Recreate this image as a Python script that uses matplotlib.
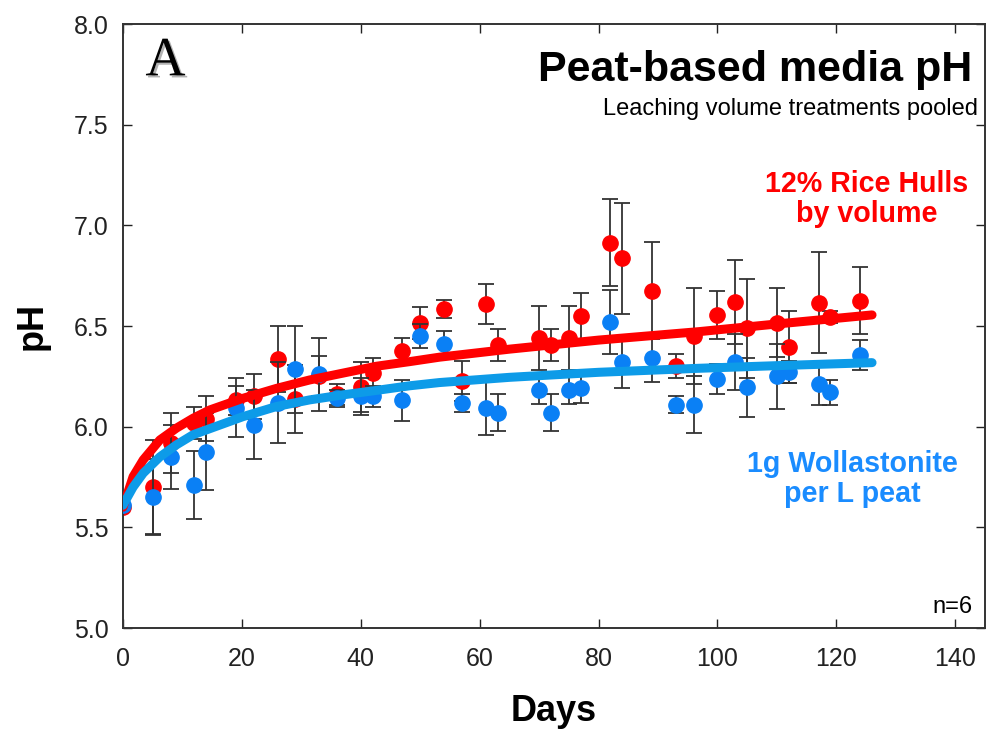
import matplotlib
matplotlib.use("Agg")
import matplotlib.pyplot as plt
import matplotlib.patheffects as pe

plt.rcParams['font.family'] = ['Liberation Sans', 'DejaVu Sans']

days = [0, 5, 8, 12, 14, 19, 22, 26, 29, 33, 36, 40, 42, 47, 50, 54, 57, 61, 63,
        70, 72, 75, 77, 82, 84, 89, 93, 96, 100, 103, 105, 110, 112, 117, 119, 124]

rice_ph = [5.60, 5.70, 5.92, 6.02, 6.04, 6.13, 6.15, 6.335, 6.137, 6.25, 6.16, 6.196,
           6.265, 6.375, 6.515, 6.584, 6.227, 6.61, 6.406, 6.44, 6.406, 6.44, 6.55,
           6.914, 6.837, 6.676, 6.30, 6.45, 6.555, 6.62, 6.489, 6.517, 6.395, 6.616,
           6.544, 6.626]
rice_err = [0.0, 0.235, 0.15, 0.08, 0.11, 0.07, 0.11, 0.165, 0.17, 0.10, 0.05, 0.125,
            0.075, 0.065, 0.08, 0.045, 0.10, 0.10, 0.08, 0.16, 0.08, 0.16, 0.113,
            0.216, 0.275, 0.24, 0.06, 0.24, 0.12, 0.21, 0.245, 0.17, 0.18, 0.25,
            0.03, 0.165]

woll_ph = [5.61, 5.65, 5.85, 5.71, 5.876, 6.095, 6.01, 6.12, 6.285, 6.26, 6.14, 6.15,
           6.15, 6.13, 6.45, 6.41, 6.117, 6.095, 6.07, 6.183, 6.07, 6.183, 6.19,
           6.52, 6.32, 6.34, 6.11, 6.11, 6.236, 6.32, 6.196, 6.25, 6.27, 6.21,
           6.17, 6.356]
woll_err = [0.0, 0.19, 0.16, 0.17, 0.19, 0.145, 0.17, 0.20, 0.215, 0.18, 0.04, 0.09,
            0.05, 0.10, 0.06, 0.066, 0.043, 0.135, 0.09, 0.07, 0.09, 0.07, 0.07,
            0.16, 0.13, 0.12, 0.04, 0.14, 0.076, 0.14, 0.146, 0.16, 0.055, 0.10,
            0.06, 0.075]

# fitted curves
fit_days = [0, 1.7, 3.4, 6.2, 9.0, 11.8, 14.6, 20.2, 25.8, 31.4, 37, 42.6, 48.2,
            53.2, 65, 80, 96.9, 110, 126]
rice_fit = [5.60, 5.752, 5.835, 5.934, 5.993, 6.042, 6.083, 6.141, 6.19, 6.232,
            6.266, 6.30, 6.323, 6.345, 6.385, 6.43, 6.472, 6.51, 6.555]
woll_fit = [5.61, 5.70, 5.769, 5.85, 5.91, 5.96, 5.99, 6.05, 6.10, 6.133, 6.158,
            6.18, 6.203, 6.219, 6.245, 6.27, 6.29, 6.303, 6.318]

red = '#ff0000'
blue_pt = '#0a80f5'
blue_line = '#0d9be8'

fig = plt.figure(figsize=(9.86, 7.36), dpi=100)
ax = fig.add_axes([123 / 986, 1 - 628 / 736, (985 - 123) / 986, (628 - 24) / 736])

ax.errorbar(days, rice_ph, yerr=rice_err, fmt='o', color=red, ms=11, mec=red,
            ecolor='#333333', elinewidth=1.3, capsize=6, capthick=1.3, zorder=2)
ax.errorbar(days, woll_ph, yerr=woll_err, fmt='o', color=blue_pt, ms=11, mec=blue_pt,
            ecolor='#333333', elinewidth=1.3, capsize=6, capthick=1.3, zorder=3)

ax.plot(fit_days, rice_fit, color=red, lw=6.5, solid_capstyle='round', zorder=4)
ax.plot(fit_days, woll_fit, color=blue_line, lw=6.5, solid_capstyle='round', zorder=5)

ax.set_xlim(0, 145)
ax.set_ylim(5.0, 8.0)
ax.set_xticks(range(0, 141, 20))
ax.set_yticks([5.0, 5.5, 6.0, 6.5, 7.0, 7.5, 8.0])
ax.set_yticklabels(['5.0', '5.5', '6.0', '6.5', '7.0', '7.5', '8.0'])
ax.tick_params(direction='in', length=6.5, width=1, top=True, right=True,
               labelsize=18, colors='#222222')
ax.tick_params(axis='x', pad=14)
ax.tick_params(axis='y', pad=10.5)
for s in ax.spines.values():
    s.set_linewidth(1.4)
    s.set_color('#333333')

ax.set_xlabel('Days', fontsize=26, fontweight='bold')
ax.xaxis.set_label_coords(0.5, -0.109)
ax.set_ylabel('pH', fontsize=26, fontweight='bold')
ax.yaxis.set_label_coords(-0.085, 0.5)

tr = ax.transAxes
ax.text(0.026, 0.915, 'A', transform=tr, family='Liberation Serif', fontsize=40,
        path_effects=[pe.withSimplePatchShadow(offset=(1.5, -1.5), alpha=0.3)])
ax.text(0.985, 0.905, 'Peat-based media pH', transform=tr, ha='right', va='baseline',
        fontsize=31, fontweight='bold')
ax.text(0.9915, 0.849, 'Leaching volume treatments pooled', transform=tr, ha='right',
        va='baseline', fontsize=17)
ax.text(0.863, 0.672, '12% Rice Hulls\nby volume', transform=tr, ha='center',
        va='baseline', fontsize=20.6, fontweight='bold', color=red, linespacing=1.1)
ax.text(0.846, 0.2086, '1g Wollastonite\nper L peat', transform=tr, ha='center',
        va='baseline', fontsize=20.6, fontweight='bold', color='#1a8cff', linespacing=1.1)
ax.text(0.986, 0.025, 'n=6', transform=tr, ha='right', va='baseline', fontsize=17)

plt.savefig('out.png', dpi=100)
plt.close()
